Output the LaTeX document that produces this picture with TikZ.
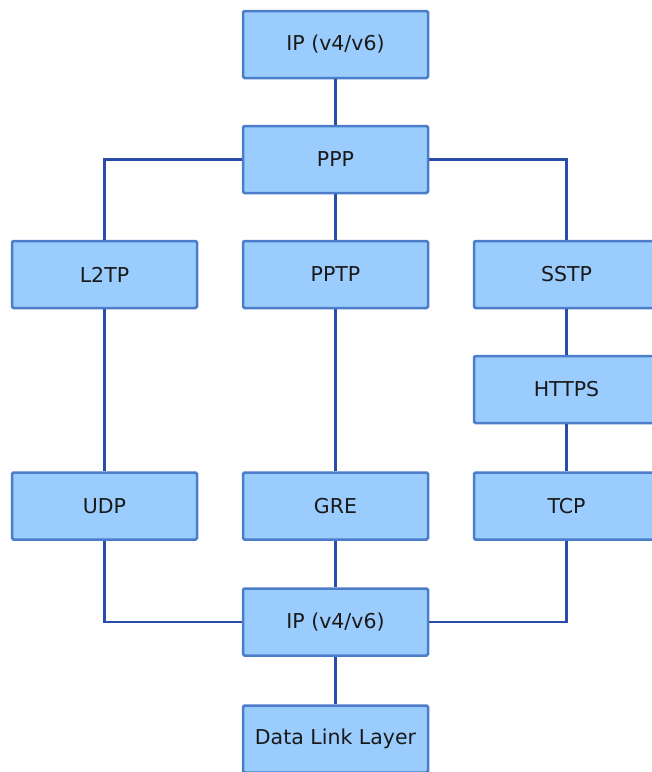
\documentclass[tikz,border=0pt]{standalone}
\usepackage{fontspec}
\setmainfont{DejaVu Sans}
\definecolor{boxfill}{HTML}{9ACCFD}
\definecolor{boxline}{HTML}{4C7DCB}
\definecolor{conn}{HTML}{2A4DA8}
\begin{document}
\begin{tikzpicture}[x=1pt,y=-1pt,
  layerbox/.style={draw=boxline,fill=boxfill,line width=2.5pt,rounded corners=1.5pt,
    minimum width=185pt,minimum height=67pt,inner sep=0pt,
    font=\fontsize{20.5}{23}\selectfont,text=black!90},
  link/.style={draw=conn,line width=2.8pt}]
\useasboundingbox (0,0) rectangle (652,772);
\clip (0,0) rectangle (652,772);
\node[layerbox] (ip1) at (335.5,44.5) {IP (v4/v6)};
\node[layerbox] (ppp) at (335.5,159.5) {PPP};
\node[layerbox] (l2tp) at (104.5,274.5) {L2TP};
\node[layerbox] (pptp) at (335.5,274.5) {PPTP};
\node[layerbox] (sstp) at (566.5,274.5) {SSTP};
\node[layerbox] (https) at (566.5,389.5) {HTTPS};
\node[layerbox] (udp) at (104.5,506) {UDP};
\node[layerbox] (gre) at (335.5,506) {GRE};
\node[layerbox] (tcp) at (566.5,506) {TCP};
\node[layerbox] (ip2) at (335.5,622) {IP (v4/v6)};
\node[layerbox] (dll) at (335.5,739) {Data Link Layer};
\draw[link] (ip1.south) -- (ppp.north);
\draw[link] (ppp.west) -| (l2tp.north);
\draw[link] (ppp.south) -- (pptp.north);
\draw[link] (ppp.east) -| (sstp.north);
\draw[link] (sstp.south) -- (https.north);
\draw[link] (https.south) -- (tcp.north);
\draw[link] (l2tp.south) -- (udp.north);
\draw[link] (pptp.south) -- (gre.north);
\draw[link] (udp.south) |- (ip2.west);
\draw[link] (gre.south) -- (ip2.north);
\draw[link] (tcp.south) |- (ip2.east);
\draw[link] (ip2.south) -- (dll.north);
\end{tikzpicture}
\end{document}
